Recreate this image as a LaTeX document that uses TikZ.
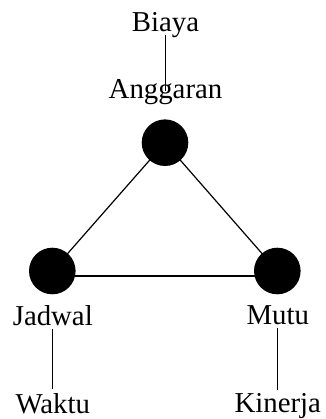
\documentclass[tikz,border=0pt]{standalone}
\usepackage{fontspec}
\setmainfont{Liberation Serif}
\begin{document}
\begin{tikzpicture}[x=1pt,y=-1pt,
  label text/.style={inner sep=0pt, text height=0.7em, text depth=0.25em,
    font=\fontsize{28.8}{30}\selectfont},
  dot/.style={circle, fill=black, inner sep=0pt, minimum size=46.6pt},
  edge line/.style={line width=1.2pt},
  tie line/.style={line width=1.1pt}]
  \useasboundingbox (0,0) rectangle (325,419);

  % corners of the triangle
  \coordinate (top) at (165,142.7);
  \coordinate (left) at (52.3,271);
  \coordinate (right) at (277.3,271);

  % triangle sides, drawn first so the dots cover their ends
  \draw[edge line] (top) -- (left);
  \draw[edge line] (top) -- (right);
  \draw[edge line] ([yshift=-5pt]left) -- ([yshift=-5pt]right);

  % the three dots
  \node[dot] (topdot) at (top) {};
  \node[dot] (leftdot) at (left) {};
  \node[dot] (rightdot) at (right) {};

  % labels
  \node[label text, anchor=base] (biaya) at (165.5,31.7) {Biaya};
  \node[label text, anchor=base] (anggaran) at (165.5,99) {Anggaran};
  \node[label text, anchor=base] (jadwal) at (52.8,325) {Jadwal};
  \node[label text, anchor=base] (waktu) at (52.8,413) {Waktu};
  \node[label text, anchor=base] (mutu) at (277.8,324) {Mutu};
  \node[label text, anchor=base] (kinerja) at (277.8,412.3) {Kinerja};

  % ties between each label and its alternative term
  \draw[tie line, shorten <=0.5pt, shorten >=0.5pt] (biaya.south) -- (anggaran.north);
  \draw[tie line, shorten <=1pt, shorten >=17pt] (jadwal.south) -- (waktu.north);
  \draw[tie line, shorten <=1.5pt, shorten >=15pt] (mutu.south) -- (kinerja.north);
\end{tikzpicture}
\end{document}
